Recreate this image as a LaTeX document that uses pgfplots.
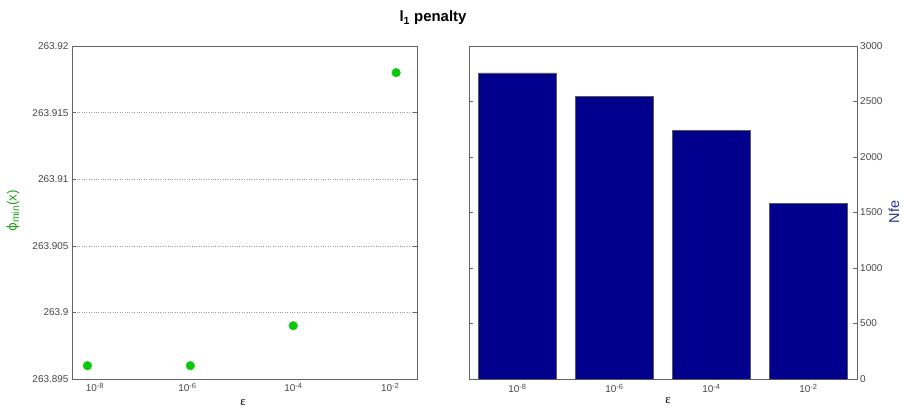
\documentclass[border=0pt]{standalone}
\usepackage{fontspec}
\setmainfont{Liberation Sans}
\newfontfamily\serifeps{Liberation Serif}
\newfontfamily\dejavu{DejaVu Sans}
\usepackage{pgfplots}
\pgfplotsset{compat=1.18}
\definecolor{mkgreen}{RGB}{10,200,10}
\definecolor{lblgreen}{RGB}{40,160,30}
\definecolor{barblue}{RGB}{0,0,140}
\definecolor{nfeblue}{RGB}{40,55,140}
\definecolor{axgray}{RGB}{100,100,100}
\definecolor{tkgray}{RGB}{70,70,70}
\newcommand{\tp}[1]{10\raisebox{0.55ex}{\fontsize{7.5}{8}\selectfont #1}}
\begin{document}
\begin{tikzpicture}[x=1bp,y=1bp]
\useasboundingbox (0,0) rectangle (903,408);
\pgfplotsset{every axis/.append style={
  scale only axis, axis line style={axgray}, 
  tick style={axgray, line width=0.5pt},
  ticklabel style={font=\fontsize{10}{11}\selectfont, text=tkgray},
  /pgf/number format/assume math mode=true,
  /pgf/number format/set thousands separator={},
  major tick length=4bp,
}}
\begin{axis}[at={(72bp,29bp)}, anchor=south west, width=344.7bp, height=333bp,
  xmin=-0.15, xmax=3.2, ymin=263.895, ymax=263.92,
  xtick={0.07,0.97,2,2.94}, xticklabels={\tp{-8},\tp{-6},\tp{-4},\tp{-2}},
  x tick style={draw=none},
  ytick={263.895,263.9,263.905,263.91,263.915,263.92},
  yticklabels={263.895,263.9,263.905,263.91,263.915,263.92},
  ymajorgrids, grid style={dotted, gray!80},
  xticklabel style={yshift=-1bp},
]
\addplot[only marks, mark=*, mark size=4.3bp, mark options={fill=mkgreen, draw=mkgreen}] coordinates {
(0,263.896) (1,263.896) (2,263.899) (3,263.918)};
\end{axis}
\begin{axis}[at={(468.7bp,29bp)}, anchor=south west, width=388bp, height=333bp,
  xmin=0.5, xmax=4.5, ymin=0, ymax=3000,
  xtick={1,2,3,4}, xticklabels={\tp{-8},\tp{-6},\tp{-4},\tp{-2}},
  x tick style={draw=none},
  ytick={0,500,1000,1500,2000,2500,3000},
  yticklabels={0,500,1000,1500,2000,2500,3000},
  yticklabel pos=right,
  xticklabel style={yshift=-2bp},
]
\addplot[ybar, bar width=77.5bp, fill=barblue, draw=gray!70!black, line width=0.4pt] coordinates {
(1,2757) (2,2547) (3,2243) (4,1583)};
\end{axis}
\node[font=\bfseries\fontsize{15}{16}\selectfont] at (433,390) {l\textsubscript{1} penalty};
\node[font=\serifeps\fontsize{13}{13}\selectfont] at (243,5) {ε};
\node[font=\serifeps\fontsize{13}{13}\selectfont] at (668,7) {ε};
\node[rotate=90, text=lblgreen, font=\fontsize{13.5}{14}\selectfont] at (13,197) {{\dejavu ϕ}\raisebox{-0.35ex}{\fontsize{10.5}{11}\selectfont min}(x)};
\node[rotate=90, text=nfeblue, font=\fontsize{14.5}{15}\selectfont] at (894,196) {Nfe};
\end{tikzpicture}
\end{document}
